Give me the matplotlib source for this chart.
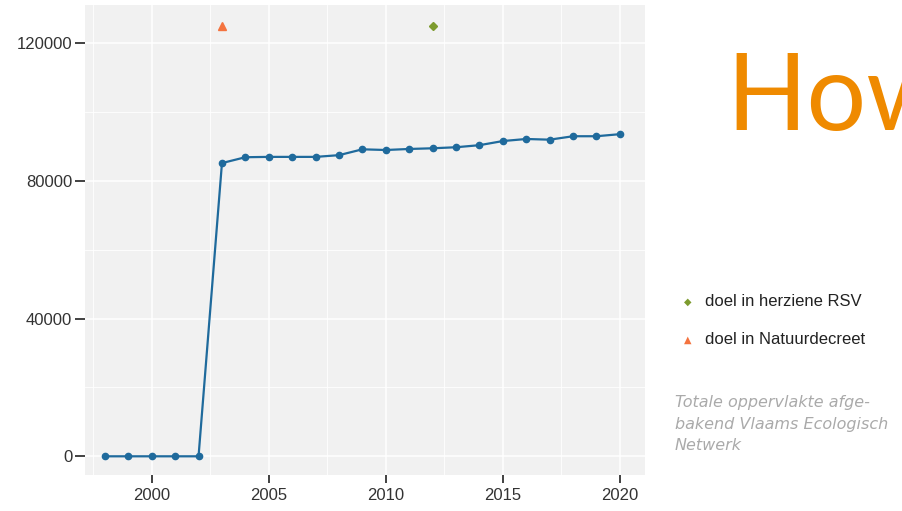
import matplotlib.pyplot as plt
from matplotlib.ticker import MultipleLocator

# oppervlakte VEN per jaar (ha)
jaren = list(range(1998, 2021))
oppervlakte = [0, 0, 0, 0, 0, 85200, 86900, 87000, 87000, 87000, 87500,
               89200, 89000, 89300, 89500, 89800, 90400, 91600, 92200,
               92000, 93000, 93000, 93600]

doel_rsv_jaar = [2012]
doel_rsv = [125000]
doel_decreet_jaar = [2003]
doel_decreet = [125000]

xticks = [2000, 2005, 2010, 2015, 2020]
yticks = [0, 40000, 80000, 120000]

plt.rcParams['font.family'] = ['Liberation Sans', 'DejaVu Sans']

fig = plt.figure(figsize=(9.02, 5.11), dpi=100)
ax = fig.add_axes([0.094, 0.07, 0.621, 0.92])
ax.set_facecolor('#f1f1f1')

ax.plot(jaren, oppervlakte, color='#1f6a9c', lw=1.6, marker='o', ms=4.5, zorder=3)
ax.plot(doel_rsv_jaar, doel_rsv, ls='none', marker='D', ms=4.5, color='#7d9b2e', zorder=3)
ax.plot(doel_decreet_jaar, doel_decreet, ls='none', marker='^', ms=6, color='#f4733f', zorder=3)

ax.set_xlim(1997.14, 2021.07)
ax.set_ylim(-5500, 131100)
ax.set_xticks(xticks)
ax.set_yticks(yticks)
ax.xaxis.set_minor_locator(MultipleLocator(2.5))
ax.yaxis.set_minor_locator(MultipleLocator(20000))
ax.grid(which='major', color='white', lw=1.1)
ax.grid(which='minor', color='white', lw=0.6)
ax.set_axisbelow(True)
for s in ax.spines.values():
    s.set_visible(False)
ax.tick_params(which='major', length=6, width=1.3, color='#333333', labelsize=12,
               labelcolor='#333333', pad=3)
ax.tick_params(axis='y', which='major', pad=2, length=7)
ax.tick_params(which='minor', length=0)

# legende
lx = 688
fig.text(lx / 902, 1 - 302 / 511, '\u25C6', color='#7d9b2e', fontsize=7,
         family='DejaVu Sans', ha='center', va='center')
fig.text(705 / 902, 1 - 302 / 511, 'doel in herziene RSV', color='#222222', fontsize=12, va='center')
fig.text(lx / 902, 1 - 340 / 511, '\u25B2', color='#f4733f', fontsize=7,
         family='DejaVu Sans', ha='center', va='center')
fig.text(705 / 902, 1 - 340 / 511, 'doel in Natuurdecreet', color='#222222', fontsize=12, va='center')

fig.text(675 / 902, 1 - 395 / 511,
         'Totale oppervlakte afge-\nbakend Vlaams Ecologisch\nNetwerk',
         color='#aaaaaa', fontsize=11.5, family='DejaVu Sans', style='italic',
         va='top', linespacing=1.55)

fig.text(726 / 902, 1 - 130 / 511, 'How', color='#ef8a00', fontsize=76,
         family='Lato', va='baseline')

fig.savefig('out.png', dpi=100)
